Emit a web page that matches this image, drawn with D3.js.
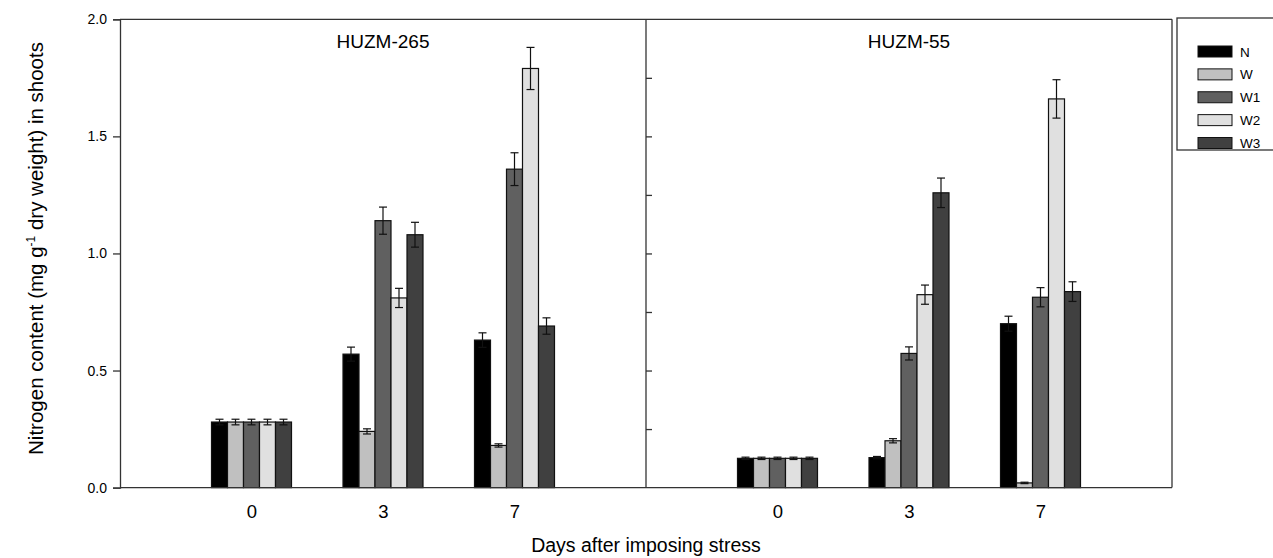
<html>
<head>
<style>
  body { margin: 0; background: #fff; }
  text { font-family: "Liberation Sans", Arial, sans-serif; fill: #000; }
</style>
</head>
<body>
<svg id="chart" width="1273" height="558"></svg>
<script src="https://d3js.org/d3.v7.min.js"></script>
<script>
// data
const days = ["0", "3", "7"]
const treatments = ["N", "W", "W1", "W2", "W3"]
const cultivars = ["HUZM-265", "HUZM-55"]
const colors = ["#000000", "#c0c0c0", "#606060", "#e0e0e0", "#404040"]

// mean per treatment, one value per day
const huzm265Mean = [
  [0.28, 0.57, 0.63],
  [0.28, 0.24, 0.18],
  [0.28, 1.14, 1.36],
  [0.28, 0.81, 1.79],
  [0.28, 1.08, 0.69]
]
const huzm265Err = [
  [0.012, 0.03, 0.031],
  [0.012, 0.011, 0.007],
  [0.012, 0.058, 0.07],
  [0.012, 0.041, 0.09],
  [0.012, 0.053, 0.035]
]
const huzm55Mean = [
  [0.125, 0.128, 0.70],
  [0.125, 0.200, 0.02],
  [0.125, 0.573, 0.813],
  [0.125, 0.824, 1.66],
  [0.125, 1.259, 0.837]
]
const huzm55Err = [
  [0.005, 0.005, 0.032],
  [0.005, 0.009, 0.003],
  [0.005, 0.028, 0.041],
  [0.005, 0.041, 0.082],
  [0.005, 0.063, 0.042]
]
const yTicks = [0, 0.5, 1.0, 1.5, 2.0]
const yMinor = [0.25, 0.5, 0.75, 1.0, 1.25, 1.5, 1.75]

let svg = d3.select("#chart")
let pLeft = 120, pRight = 1172, pTop = 19.3, pBottom = 487.6

let y = d3.scaleLinear().domain([0, 2]).range([pBottom, pTop])
let xPanel = d3.scaleBand().domain(cultivars).range([pLeft, pRight])
let xDay = d3.scalePoint().domain(days).range([0, xPanel.bandwidth()]).padding(1)
let xBar = d3.scaleBand().domain(treatments).range([-40, 40])

let means = [huzm265Mean, huzm55Mean]
let errs = [huzm265Err, huzm55Err]

let rows = []
cultivars.forEach((c, p) => {
  treatments.forEach((t, i) => {
    days.forEach((d, j) => {
      rows.push({ cultivar: c, t: t, i: i, day: d, v: means[p][i][j], e: errs[p][i][j] })
    })
  })
})

let cx = d => xPanel(d.cultivar) + xDay(d.day) + xBar(d.t)

// bars
svg.append("g").selectAll("rect")
  .data(rows).enter().append("rect")
  .attr("x", cx)
  .attr("y", d => y(d.v))
  .attr("width", xBar.bandwidth())
  .attr("height", d => y(0) - y(d.v))
  .attr("fill", d => colors[d.i])
  .attr("stroke", "#111")
  .attr("stroke-width", 1.2)

// error bars
let eb = svg.append("g").attr("stroke", "#111").attr("stroke-width", 1.2)
rows.forEach(d => {
  let mx = cx(d) + xBar.bandwidth() / 2
  eb.append("line").attr("x1", mx).attr("x2", mx).attr("y1", y(d.v + d.e)).attr("y2", y(d.v - d.e))
  eb.append("line").attr("x1", mx - 4).attr("x2", mx + 4).attr("y1", y(d.v + d.e)).attr("y2", y(d.v + d.e))
  eb.append("line").attr("x1", mx - 4).attr("x2", mx + 4).attr("y1", y(d.v - d.e)).attr("y2", y(d.v - d.e))
})

// frame
let frame = svg.append("g").attr("stroke", "#333").attr("stroke-width", 1.3).attr("fill", "none")
frame.append("line").attr("x1", pLeft).attr("x2", pRight).attr("y1", pTop).attr("y2", pTop)
frame.append("line").attr("x1", pRight).attr("x2", pRight).attr("y1", pTop).attr("y2", pBottom)
frame.append("line").attr("x1", xPanel("HUZM-55")).attr("x2", xPanel("HUZM-55")).attr("y1", pTop).attr("y2", pBottom)

// left y axis
svg.append("g")
  .attr("transform", `translate(${pLeft},0)`)
  .call(d3.axisLeft(y).tickValues(yTicks).tickFormat(d3.format(".1f")).tickSizeOuter(0).tickSize(7).tickPadding(6))
  .call(g => g.selectAll("line, path").attr("stroke", "#333").attr("stroke-width", 1.3))
  .call(g => g.selectAll("text").style("font-size", "14px").style("font-family", "Liberation Sans, Arial"))

// inner ticks on the panel divider
svg.append("g")
  .attr("transform", `translate(${xPanel("HUZM-55")},0)`)
  .call(d3.axisRight(y).tickValues(yMinor).tickFormat("").tickSizeOuter(0).tickSize(6))
  .call(g => g.select("path").remove())
  .call(g => g.selectAll("line").attr("stroke", "#333").attr("stroke-width", 1.3))

// bottom axis, one per panel
cultivars.forEach(c => {
  let xs = d3.scalePoint().domain(days).range([xPanel(c), xPanel(c) + xPanel.bandwidth()]).padding(1)
  svg.append("g")
    .attr("transform", `translate(0,${pBottom})`)
    .call(d3.axisBottom(xs).tickSize(0).tickPadding(17))
    .call(g => g.select("path").attr("d", `M${xPanel(c)},0H${xPanel(c) + xPanel.bandwidth()}`).attr("stroke", "#333").attr("stroke-width", 1.3))
    .call(g => g.selectAll("text").style("font-size", "18.5px").style("font-family", "Liberation Sans, Arial"))
})

// panel titles
svg.append("g").selectAll("text")
  .data(cultivars).enter().append("text")
  .attr("x", d => xPanel(d) + xPanel.bandwidth() / 2)
  .attr("y", 48)
  .attr("text-anchor", "middle")
  .style("font-size", "19px")
  .text(d => d)

// axis titles
svg.append("text")
  .attr("x", (pLeft + pRight) / 2)
  .attr("y", 552)
  .attr("text-anchor", "middle")
  .style("font-size", "19.5px")
  .text("Days after imposing stress")

let yt = svg.append("text")
  .attr("transform", "translate(43,248.5) rotate(-90)")
  .attr("text-anchor", "middle")
  .style("font-size", "20.5px")
yt.append("tspan").text("Nitrogen content (mg g")
yt.append("tspan").attr("dy", -8).style("font-size", "12px").text("-1")
yt.append("tspan").attr("dy", 8).text(" dry weight) in shoots")

// legend
let lg = svg.append("g")
lg.append("rect")
  .attr("x", 1177).attr("y", 18).attr("width", 110).attr("height", 132)
  .attr("fill", "#fff").attr("stroke", "#333").attr("stroke-width", 1.3)
let ly = d3.scalePoint().domain(treatments).range([51.5, 143])
let li = lg.selectAll(".item").data(treatments).enter().append("g")
  .attr("transform", d => `translate(1198,${ly(d)})`)
li.append("rect")
  .attr("x", 0).attr("y", -5.5).attr("width", 34).attr("height", 11)
  .attr("fill", (d, i) => colors[i]).attr("stroke", "#111").attr("stroke-width", 1)
li.append("text")
  .attr("x", 42).attr("y", 5)
  .style("font-size", "13.5px")
  .text(d => d)
</script>
</body>
</html>
